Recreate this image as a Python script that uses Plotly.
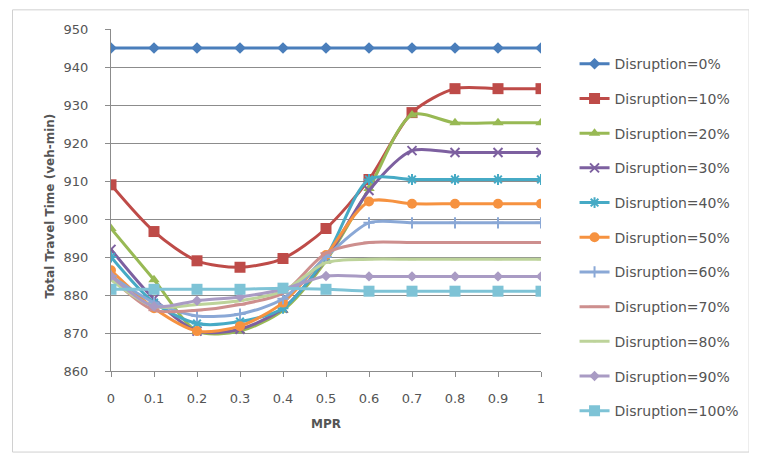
import plotly.graph_objects as go

mpr = [0, 0.1, 0.2, 0.3, 0.4, 0.5, 0.6, 0.7, 0.8, 0.9, 1]
tick_labels = ["0", "0.1", "0.2", "0.3", "0.4", "0.5", "0.6", "0.7", "0.8", "0.9", "1"]

d0 = [945, 945, 945, 945, 945, 945, 945, 945, 945, 945, 945]
d10 = [909, 896.7, 889, 887.3, 889.6, 897.5, 910.4, 928, 934.3, 934.3, 934.3]
d20 = [897.5, 884, 870.5, 870.5, 876, 889, 908, 927.4, 925.3, 925.3, 925.3]
d30 = [892, 879, 870.5, 871, 876.5, 889.5, 907.5, 918, 917.5, 917.5, 917.5]
d40 = [890, 878, 872.5, 873, 876.5, 890, 910.4, 910.4, 910.4, 910.4, 910.4]
d50 = [886.5, 876.5, 870.5, 871.8, 878, 890.5, 904.6, 904, 904, 904, 904]
d60 = [885, 878, 874.5, 875, 879, 890, 899, 899, 899, 899, 899]
d70 = [884.5, 876, 876, 877.5, 880.5, 891, 893.8, 893.8, 893.8, 893.8, 893.8]
d80 = [884, 877, 877.5, 878.5, 881, 888.5, 889.4, 889.4, 889.4, 889.4, 889.4]
d90 = [885, 877, 878.5, 879.5, 881.5, 885, 884.9, 884.9, 884.9, 884.9, 884.9]
d100 = [881.5, 881.5, 881.5, 881.5, 881.8, 881.5, 881, 881, 881, 881, 881]

names = ["Disruption=0%", "Disruption=10%", "Disruption=20%", "Disruption=30%",
         "Disruption=40%", "Disruption=50%", "Disruption=60%", "Disruption=70%",
         "Disruption=80%", "Disruption=90%", "Disruption=100%"]
series = [d0, d10, d20, d30, d40, d50, d60, d70, d80, d90, d100]

x_title = "MPR"
y_title = "Total Travel Time (veh-min)"

colors = ["#4A7EBB", "#BE4B48", "#98B954", "#7D60A0", "#46AAC5", "#F69240",
          "#8AA8D6", "#CD8F8E", "#BDD39A", "#A99BC4", "#7EC3D6"]
symbols = ["diamond", "square", "triangle-up", "x-thin-open", "asterisk-open",
           "circle", "cross-thin-open", "line-ew-open", "line-ew-open", "diamond", "square"]
sizes = [9, 11, 10, 9, 9, 10, 8, 8, 0, 8, 11]

fig = go.Figure()
for i, (nm, ys) in enumerate(zip(names, series)):
    sym = symbols[i]
    open_sym = sym.endswith("-open")
    fig.add_trace(go.Scatter(
        x=mpr, y=ys, name=nm, mode="lines+markers",
        legendgroup=nm,
        line=dict(color=colors[i], width=3, shape="spline", smoothing=0.8),
        marker=dict(symbol=sym, size=sizes[i], color=colors[i],
                    line=dict(color=colors[i], width=2 if open_sym else 0)),
    ))

grid = "#8C8C8C"
txt = "#555555"
fam = "DejaVu Sans, Liberation Sans, sans-serif"
fig.update_layout(
    width=749, height=450,
    margin=dict(l=103, r=214, t=21, b=87),
    paper_bgcolor="white", plot_bgcolor="white",
    font=dict(family=fam, size=13, color=txt),
    showlegend=True,
    legend=dict(x=1.078, xanchor="left", y=0.944, yanchor="top",
                font=dict(family=fam, size=14, color=txt),
                tracegroupgap=13.5, bgcolor="rgba(0,0,0,0)",
                itemwidth=30, maxheight=600),
    xaxis=dict(range=[0, 1], tickmode="array", tickvals=mpr, ticktext=tick_labels,
               showgrid=False, showline=True, linecolor=grid, linewidth=1,
               ticks="outside", ticklen=5, tickcolor=grid,
               zeroline=False, ticklabelstandoff=10,
               tickfont=dict(family=fam, size=13, color=txt),
               automargin=False),
    yaxis=dict(range=[860, 950], dtick=10, tick0=860,
               showgrid=True, gridcolor=grid, gridwidth=1,
               showline=True, linecolor=grid, linewidth=1,
               ticks="outside", ticklen=5, tickcolor=grid,
               zeroline=False, ticklabelstandoff=14,
               tickfont=dict(family=fam, size=13, color=txt),
               automargin=False),
    annotations=[
        dict(text="<b>%s</b>" % x_title, xref="paper", yref="paper", x=0.5, y=-0.155,
             showarrow=False, font=dict(family=fam, size=12, color=txt),
             xanchor="center", yanchor="middle"),
        dict(text="<b>%s</b>" % y_title, xref="paper", yref="paper", x=-0.141, y=0.482,
             showarrow=False, textangle=-90, font=dict(family=fam, size=12, color=txt),
             xanchor="center", yanchor="middle"),
    ],
    shapes=[dict(type="rect", xref="paper", yref="paper",
                 x0=-0.229, x1=1.484, y0=-0.237, y1=1.056,
                 line=dict(color="#D0D0D0", width=1), fillcolor="rgba(0,0,0,0)",
                 layer="below")],
)

fig.write_html("out.html")
